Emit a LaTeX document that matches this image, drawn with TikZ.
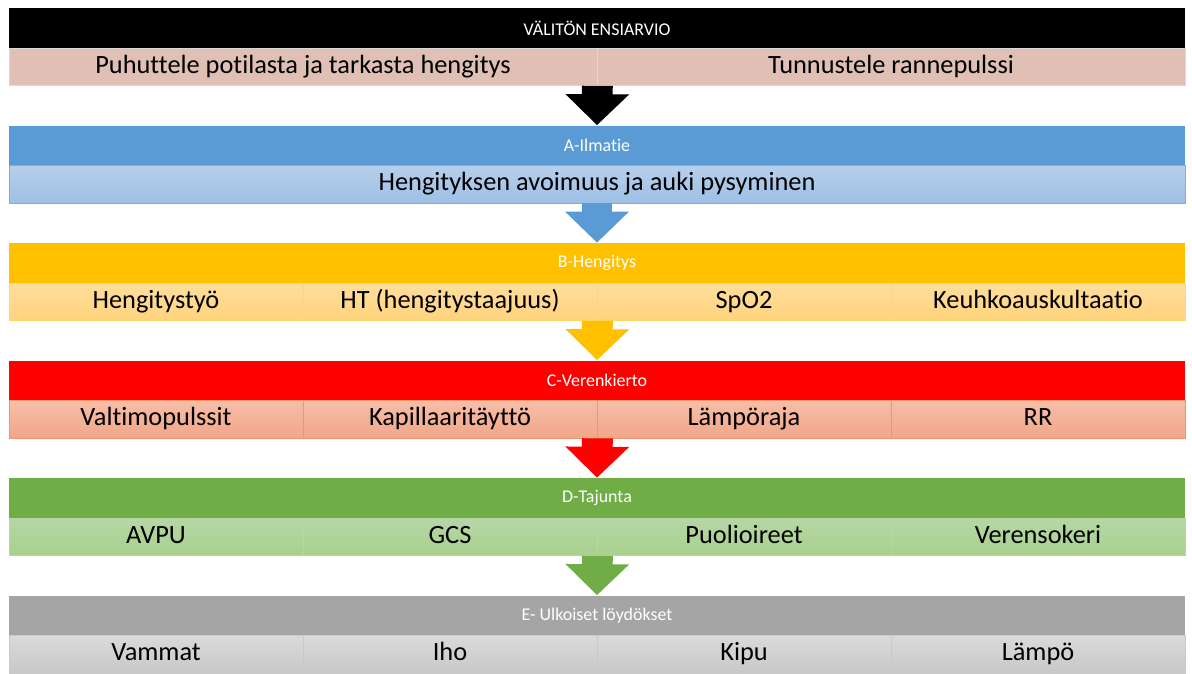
\documentclass[tikz,border=0pt]{standalone}
\usepackage{fontspec}
\setmainfont{Carlito}[Ligatures = NoCommon]
\usetikzlibrary{arrows.meta}

\definecolor{hdblue}{HTML}{5B9BD5}
\definecolor{hdorange}{HTML}{FFC000}
\definecolor{hdred}{HTML}{FF0000}
\definecolor{hdgreen}{HTML}{70AD47}
\definecolor{hdgray}{HTML}{A5A5A5}
\definecolor{rowpink}{RGB}{224,192,181}
\definecolor{bluetop}{RGB}{182,207,235}
\definecolor{bluebot}{RGB}{157,192,229}
\definecolor{orangetop}{RGB}{255,222,156}
\definecolor{orangebot}{RGB}{255,211,125}
\definecolor{redtop}{RGB}{246,190,168}
\definecolor{redbot}{RGB}{242,166,136}
\definecolor{redline}{RGB}{240,150,110}
\definecolor{greentop}{RGB}{182,215,166}
\definecolor{greenbot}{RGB}{168,208,141}
\definecolor{graytop}{RGB}{218,218,218}
\definecolor{graybot}{RGB}{200,200,200}

\tikzset{
  header/.style = {minimum width = 23.52cm, minimum height = 0.8cm, inner sep = 0pt,
                   text = white, font = \fontsize{10.2}{12}\selectfont},
  cell/.style   = {minimum height = 0.75cm, inner sep = 0pt, line width = 0.4pt,
                   text height = 1.9ex, text depth = 0.3ex,
                   font = \fontsize{15}{18}\selectfont},
  wide/.style   = {cell, minimum width = 11.76cm},
  full/.style   = {cell, minimum width = 23.52cm},
  quarter/.style = {cell, minimum width = 5.88cm},
  pinkrow/.style   = {draw = white!85!black, fill = rowpink},
  bluerow/.style   = {draw = hdblue!80, top color = bluetop, bottom color = bluebot},
  orangerow/.style = {draw = hdorange!60, top color = orangetop, bottom color = orangebot},
  redrow/.style    = {draw = redline, top color = redtop, bottom color = redbot},
  greenrow/.style  = {draw = hdgreen!50, top color = greentop, bottom color = greenbot},
  grayrow/.style   = {draw = hdgray!60, top color = graytop, bottom color = graybot},
  flow/.style   = {line width = 17.6pt, -{Triangle[width = 35.2pt, length = 17.6pt]}}
}

\begin{document}
\begin{tikzpicture}[x = 0.02cm, y = -0.02cm]
  \useasboundingbox (0, 0) rectangle (1192, 673);

  % ensiarvio
  \node[header, fill = black] (E0) at (597, 28) {VÄLITÖN ENSIARVIO};
  \node[wide, pinkrow] (p1) at (303, 66.75) {Puhuttele potilasta ja tarkasta hengitys};
  \node[wide, pinkrow] (p2) at (891, 66.75) {Tunnustele rannepulssi};

  % A
  \node[header, fill = hdblue] (A0) at (597, 145.5) {A-Ilmatie};
  \node[full, bluerow] (a1) at (597, 184.25) {Hengityksen avoimuus ja auki pysyminen};

  % B
  \node[header, fill = hdorange] (B0) at (597, 263) {B-Hengitys};
  \node[quarter, orangerow] (b1) at ( 156, 301.75) {Hengitystyö};
  \node[quarter, orangerow] (b2) at ( 450, 301.75) {HT (hengitystaajuus)};
  \node[quarter, orangerow] (b3) at ( 744, 301.75) {SpO2};
  \node[quarter, orangerow] (b4) at (1038, 301.75) {Keuhkoauskultaatio};

  % C
  \node[header, fill = hdred] (C0) at (597, 380.5) {C-Verenkierto};
  \node[quarter, redrow] (c1) at ( 156, 419.25) {Valtimopulssit};
  \node[quarter, redrow] (c2) at ( 450, 419.25) {Kapillaaritäyttö};
  \node[quarter, redrow] (c3) at ( 744, 419.25) {Lämpöraja};
  \node[quarter, redrow] (c4) at (1038, 419.25) {RR};

  % D
  \node[header, fill = hdgreen] (D0) at (597, 498) {D-Tajunta};
  \node[quarter, greenrow] (d1) at ( 156, 536.75) {AVPU};
  \node[quarter, greenrow] (d2) at ( 450, 536.75) {GCS};
  \node[quarter, greenrow] (d3) at ( 744, 536.75) {Puolioireet};
  \node[quarter, greenrow] (d4) at (1038, 536.75) {Verensokeri};

  % E
  \node[header, fill = hdgray] (E1) at (597, 615.5) {E- Ulkoiset löydökset};
  \node[quarter, grayrow] (e1) at ( 156, 654.25) {Vammat};
  \node[quarter, grayrow] (e2) at ( 450, 654.25) {Iho};
  \node[quarter, grayrow] (e3) at ( 744, 654.25) {Kipu};
  \node[quarter, grayrow] (e4) at (1038, 654.25) {Lämpö};

  \draw[flow, black]    (p1.south east) -- (A0.north);
  \draw[flow, hdblue]   (a1.south)      -- (B0.north);
  \draw[flow, hdorange] (b2.south east) -- (C0.north);
  \draw[flow, hdred]    (c2.south east) -- (D0.north);
  \draw[flow, hdgreen]  (d2.south east) -- (E1.north);
\end{tikzpicture}
\end{document}
